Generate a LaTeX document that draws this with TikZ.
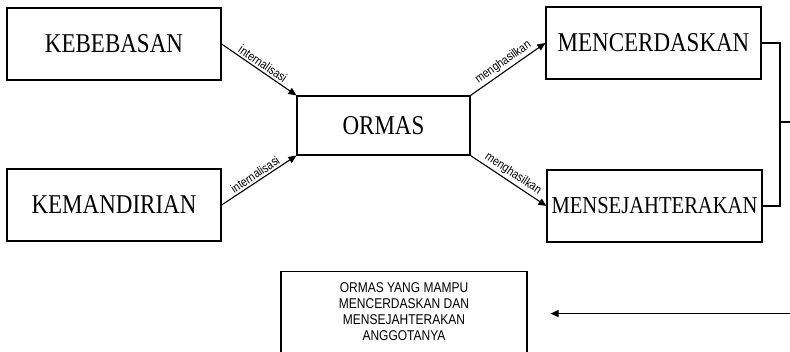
\documentclass[tikz,border=0pt]{standalone}
\usepackage{graphicx}
\usepackage{fontspec}
\setmainfont{Liberation Serif}
\setsansfont{Liberation Sans}
\usetikzlibrary{positioning, arrows.meta, calc}

% teks sedikit ditinggikan
\newcommand{\tinggi}[1]{\scalebox{1}[1.18]{#1}}

\begin{document}
\begin{tikzpicture}[
    x = 1pt, y = -1pt,
    kotak/.style = {
      rectangle, draw, line width = 1.2pt,
      minimum width = 214pt, minimum height = 72pt,
      inner sep = 0pt, font = \fontsize{23}{27}\selectfont
    },
    tengah/.style = {
      rectangle, draw, line width = 1.2pt,
      minimum width = 173pt, minimum height = 59pt,
      inner sep = 0pt, font = \fontsize{23}{27}\selectfont
    },
    hasil/.style = {
      rectangle, draw, line width = 1.2pt,
      minimum width = 246pt, minimum height = 84pt,
      inner sep = 0pt,
      font = \sffamily\fontsize{12}{13.6}\selectfont
    },
    lbl/.style = {
      sloped, above, inner sep = 2pt,
      font = \sffamily\fontsize{10.5}{12}\selectfont
    },
    arr/.style = {-{Triangle[length=8pt, width=7pt]}, line width = 1.1pt},
    garis/.style = {line width = 1.1pt}
  ]

  \useasboundingbox (0,0) rectangle (790,352);

  % ---- Kiri: dua nilai ----
  \node[kotak] (bebas)  at (114,44)  {\tinggi{KEBEBASAN}};
  \node[kotak] (mandiri) at (114,205) {\tinggi{KEMANDIRIAN}};

  % ---- Tengah ----
  \node[tengah] (ormas) at (383.5,125.5) {\tinggi{ORMAS}};

  % ---- Kanan: dua hasil ----
  \node[kotak, minimum width = 215pt] (cerdas) at (653.5,43) {\tinggi{MENCERDASKAN}};
  \node[kotak, minimum width = 215pt, font = \fontsize{20.6}{25}\selectfont]
    (sejahtera) at (654.5,206) {\tinggi{MENSEJAHTERAKAN}};

  % ---- Bawah ----
  \node[hasil, anchor = north] (akhir) at (404,271)
    {\tinggi{\begin{tabular}{@{}c@{}}ORMAS YANG MAMPU\\MENCERDASKAN DAN\\
      MENSEJAHTERAKAN\\ANGGOTANYA\end{tabular}}};

  % Panah internalisasi
  \draw[arr] (bebas.east) -- node[lbl] {\tinggi{internalisasi}} (ormas.north west);
  \draw[arr] (mandiri.east) -- node[lbl] {\tinggi{internalisasi}} (ormas.south west);

  % Panah menghasilkan
  \draw[arr] (ormas.north east) -- node[lbl] {\tinggi{menghasilkan}} (cerdas.west);
  \draw[arr] (ormas.south east) -- node[lbl] {\tinggi{menghasilkan}} (sejahtera.west);

  % Kurung kanan dan panah balik
  \coordinate (temu) at (780,122);
  \coordinate (luar) at (800,122);
  \draw[garis] (cerdas.east) -| (temu) |- (sejahtera.east);
  \draw[garis] (temu) -- (luar);
  \draw[arr, shorten >= 23pt] (luar) |- (akhir.east);

\end{tikzpicture}
\end{document}
